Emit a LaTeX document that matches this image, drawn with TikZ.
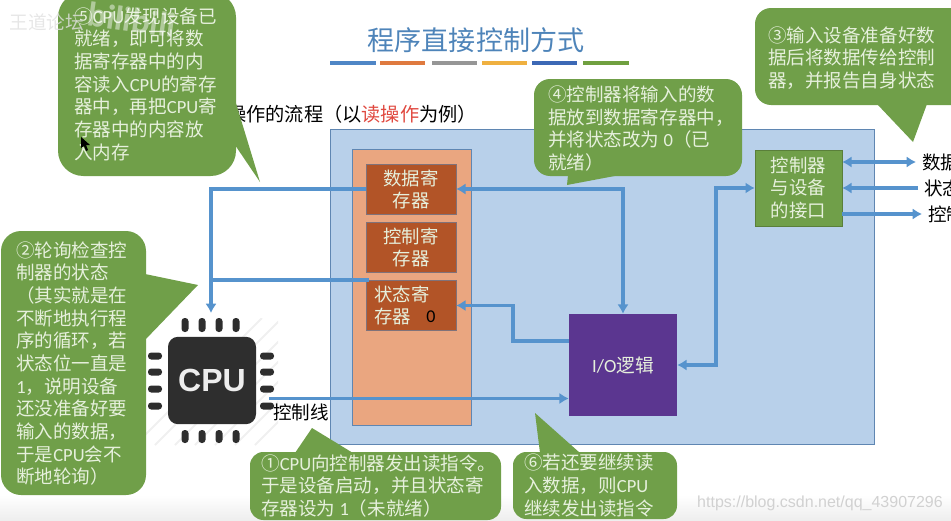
\documentclass[tikz,border=0pt]{standalone}
\usepackage{fontspec}
\setmainfont{Noto Sans CJK SC}
\newfontfamily\lat{Carlito}
\newfontfamily\arial{Liberation Sans}
\usetikzlibrary{arrows.meta}
\definecolor{cgreen}{HTML}{709F49}
\definecolor{ctext}{HTML}{E6F0DC}
\definecolor{cblue}{HTML}{5693CD}
\definecolor{big}{HTML}{B8D0EA}
\definecolor{bigedge}{HTML}{5F86B2}
\definecolor{peach}{HTML}{EAA680}
\definecolor{reg}{HTML}{B25427}
\definecolor{iop}{HTML}{5B3690}
\definecolor{cpuk}{HTML}{2E2E2E}
\tikzset{
  x=0.75pt,y=-0.75pt,
  wire/.style={draw=cblue,line width=2.8pt},
  tip/.style={-{Latex[length=7pt,width=8.5pt]}},
  tiptwo/.style={{Latex[length=7pt,width=8.5pt]}-{Latex[length=7pt,width=8.5pt]}},
  regbox/.style={fill=reg,draw=bigedge!60!reg,line width=.4pt,minimum width=67.5pt,minimum height=37.5pt,inner sep=0pt,text=ctext,align=center,font=\fontsize{13.8}{16.5}\selectfont},
  bubble/.style={fill=cgreen},
  saying/.style={anchor=west,inner sep=0pt,align=left,text=ctext,font=\fontsize{13.9}{17}\selectfont},
  blackword/.style={anchor=west,inner ysep=0pt,inner xsep=4.5pt,text=black,font=\fontsize{13.9}{17}\selectfont},
  pin/.style={fill=cpuk,rounded corners=2.4pt},
  bar/.style={line width=3pt},
}
\begin{document}
\begin{tikzpicture}
\clip (0,0) rectangle (951,521);
\path[top color=white,bottom color=white!93!black] (0,495) rectangle (951,521);
% title
\node[text=cblue!90!black,font=\fontsize{20.3}{24}\selectfont,inner sep=0pt] (title) at (476,40) {程序直接控制方式};
\foreach \a/\b/\c in {330/376/4F86C6,380/425/DF7A3F,432/477/969696,482/527/EFB040,532/577/3C68B5,583/629/70A040}{
  \definecolor{barc}{HTML}{\c}
  \draw[bar,draw=barc] (\a,63) -- (\b,63);
}
\node[blackword,inner xsep=0pt,font=\fontsize{14.4}{17}\selectfont] (sub) at (227,114) {操作的流程（以{\color[HTML]{E0483F}读操作}为例）};
% cpu stripes
\begin{scope}
\clip (146,318) rectangle (278,445);
\foreach \i in {0,...,6}{
  \draw[black!6,line width=1.4pt] (135+\i*20,445) -- (135+\i*20+127,318);
}
\end{scope}
% boxes
\node[fill=big,draw=bigedge,line width=.6pt,minimum width=408pt,minimum height=236.25pt,inner sep=0pt] (ctlr) at (602.5,286.5) {};
\node[fill=peach,draw=bigedge,line width=.6pt,minimum width=89.25pt,minimum height=207pt,inner sep=0pt] (regs) at (411.5,287) {};
\node[regbox] (dreg) at (411,189) {数据寄\\存器};
\node[regbox] (creg) at (411,247.5) {控制寄\\存器};
\node[regbox] (sreg) at (411,305.5) {};
\node[anchor=west,inner sep=0pt,align=left,text=ctext,font=\fontsize{13.8}{16.5}\selectfont] (stext) at (374,305.5) {状态寄\\存器};
\node[inner sep=0pt,text=black,font=\fontsize{13.5}{16}\selectfont\lat] (szero) at (431,316.5) {0};
\node[fill=iop,minimum width=81pt,minimum height=76.5pt,inner sep=0pt,text=ctext,font=\fontsize{14}{17}\selectfont] (io) at (623,365) {{\lat I/O}逻辑};
\node[fill=cgreen,draw=cgreen!80!black,line width=.5pt,minimum width=65pt,minimum height=57pt,inner sep=0pt,text=ctext,align=center,font=\fontsize{13.8}{17.2}\selectfont] (port) at (798.5,188) {控制器\\与设备\\的接口};
% cpu
\node[fill=cpuk,rounded corners=7.5pt,minimum width=66pt,minimum height=65.5pt,inner sep=0pt,text=white!93!black,font=\fontsize{24}{28}\selectfont\bfseries\arial] (cpu) at (212,380.5) {CPU};
\foreach \p in {185,202,219,236}{
  \fill[pin] (\p-3.5,318) rectangle (\p+3.5,332);
  \fill[pin] (\p-3.5,430) rectangle (\p+3.5,443);
}
\foreach \p in {356,372,389,406}{
  \fill[pin] (148,\p-3.5) rectangle (162,\p+3.5);
  \fill[pin] (260,\p-3.5) rectangle (274,\p+3.5);
}
% side labels
\node[blackword] (dline) at (916,162) {数据};
\node[blackword] (sline) at (918,188) {状态};
\node[blackword] (cline) at (922,214) {控制};
\node[blackword,inner xsep=0pt] (ctlword) at (273,412) {控制线};
% connectors
\coordinate (cputop) at (211,313);
\coordinate (ctl) at (269,398.5);
\coordinate (e1) at (513,341);
\coordinate (e2) at (513,305.5);
\coordinate (f1) at (716,188);
\draw[wire,tip] (dreg.west) -- (dreg.west -| cputop) -- (cputop);
\draw[wire] (sreg.north west) ++(3,0) -- (sreg.north west -| cputop);
\draw[wire,tip] (ctl) -- (ctl -| io.west);
\draw[wire,tiptwo] (dreg.east) -| (io.north);
\draw[wire,tip] (e1 -| io.west) -- (e1) -- (e2) -- (sreg.east);
\draw[wire,tiptwo] (io.east) -- (f1 |- io.east) -- (f1) -- (f1 -| port.west);
\draw[wire,tiptwo] (port.east |- dline.west) -- (dline.west);
\draw[wire,tip] (sline.west) -- (port.east |- sline.west);
\draw[wire,tip] (port.east |- cline.west) -- (cline.west);
% callouts
\fill[bubble,rounded corners=19pt] (58,-8) rectangle (236,176);
\fill[bubble] (235,100) -- (260,182) -- (235,145) -- cycle;
\node[saying] (c5) at (74,84) {⑤{\lat CPU}发现设备已\\就绪，即可将数\\据寄存器中的内\\容读入{\lat CPU}的寄存\\器中，再把{\lat CPU}寄\\存器中的内容放\\入内存};
\fill[bubble,rounded corners=15pt] (1,231) rectangle (146,495);
\fill[bubble] (145,274) -- (198,285) -- (145,340) -- cycle;
\node[saying] (c2) at (16,363.5) {②轮询检查控\\制器的状态\\（其实就是在\\不断地执行程\\序的循环，若\\状态位一直是\\{\lat 1}，说明设备\\还没准备好要\\输入的数据，\\于是{\lat CPU}会不\\断地轮询）};
\fill[bubble,rounded corners=12pt] (755,8) rectangle (975,105);
\fill[bubble] (877,104) -- (913,142) -- (927,104) -- cycle;
\node[saying] (c3) at (768,58) {③输入设备准备好数\\据后将数据传给控制\\器，并报告自身状态};
\fill[bubble,rounded corners=12pt] (534,79) rectangle (742,176);
\fill[bubble] (620,175) -- (567,185) -- (568,175) -- cycle;
\node[saying] (c4) at (548,128.5) {④控制器将输入的数\\据放到数据寄存器中，\\并将状态改为 {\lat 0}（已\\就绪）};
\fill[bubble,rounded corners=10pt] (250,452) rectangle (501,520);
\fill[bubble] (295,453) -- (312,428) -- (353,453) -- cycle;
\node[saying] (c1) at (261,486) {①{\lat CPU}向控制器发出读指令。\\于是设备启动，并且状态寄\\存器设为 {\lat 1}（未就绪）};
\fill[bubble,rounded corners=10pt] (513,452) rectangle (677,519);
\fill[bubble] (540,453) -- (535,413) -- (580,453) -- cycle;
\node[saying] (c6) at (524,485.5) {⑥若还要继续读\\入数据，则{\lat CPU}\\继续发出读指令};
% marks on the video
\fill[black] (81,137) -- (81,148) -- (84,146) -- (86,151) -- (88,150) -- (86,145) -- (90,145) -- cycle;
\node[text=black!12,opacity=.8,inner sep=0pt,font=\fontsize{14}{16}\selectfont] (wm1) at (47,22) {王道论坛};
\node[text=white,opacity=.45,inner sep=0pt,rotate=-8,font=\fontsize{26}{28}\selectfont\bfseries\lat] (wm2) at (132,20) {bilibili};
\node[text=black!18,inner sep=0pt,font=\fontsize{12}{15}\selectfont\arial] (wm3) at (820,503) {https://blog.csdn.net/qq\_43907296};
\end{tikzpicture}
\end{document}
